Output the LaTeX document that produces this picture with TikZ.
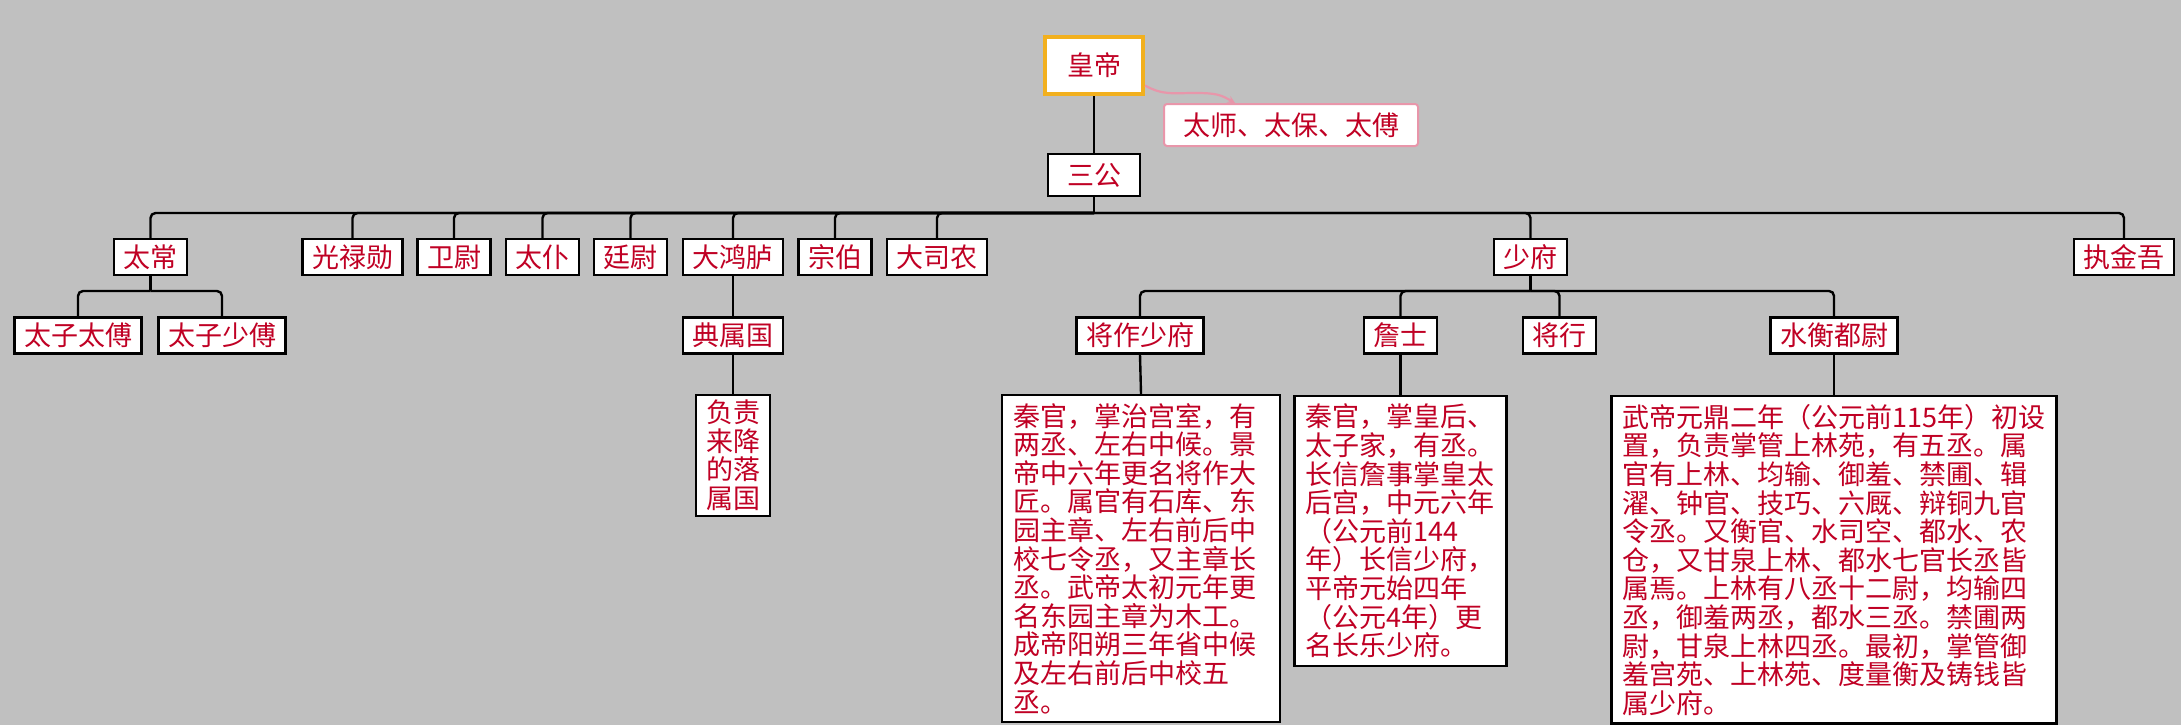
\documentclass[tikz,border=0pt]{standalone}
\usepackage{fontspec}
\setmainfont{Noto Sans CJK SC}
\usepackage{tikz}
\usetikzlibrary{arrows,shapes,positioning}
\usepackage{xcolor}
\definecolor{hanred}{RGB}{192,0,36}
\definecolor{hangray}{RGB}{192,192,192}
\definecolor{hanorange}{RGB}{242,176,30}
\definecolor{hanpink}{RGB}{232,150,170}
\tikzstyle{office} = [rectangle, draw=black, line width=2.4pt, fill=white, text=hanred, text centered, font=\fontsize{27}{28.6}\selectfont, minimum height=36pt, inner xsep=9.5pt, inner ysep=0pt]
\tikzstyle{note} = [rectangle, draw=black, line width=2.2pt, fill=white, text=hanred, align=left, anchor=north, font=\fontsize{27}{28.6}\selectfont, inner xsep=11pt, inner ysep=8pt]
\tikzstyle{link} = [line width=2.4pt, rounded corners=5pt]
\tikzstyle{wavy} = [line width=2.2pt, color=hanpink, ->, >=stealth]

\begin{document}
\begin{tikzpicture}[x=1pt,y=-1pt]
\fill[hangray] (0,0) rectangle (2181,725);
\useasboundingbox (0,0) rectangle (2181,725);

% Emperor and the three excellencies
\node[office, draw=hanorange, line width=4pt, minimum width=98pt, minimum height=57pt] (huangdi) at (1094,65.5) {皇帝};
\node[office, draw=hanpink, line width=2pt, rounded corners=3pt, minimum width=254pt, minimum height=42pt] (sanshi) at (1291,125) {太师、太保、太傅};
\node[office, minimum width=92pt, minimum height=42pt] (sangong) at (1094,175) {三公};

% Nine ministers
\node[office] (taichang) at (150.5,257) {太常};
\node[office] (guanglu) at (352.5,257) {光禄勋};
\node[office] (weiwei) at (454,257) {卫尉};
\node[office] (taipu) at (542.5,257) {太仆};
\node[office] (tingwei) at (630.5,257) {廷尉};
\node[office] (honglu) at (733,257) {大鸿胪};
\node[office] (zongbo) at (835,257) {宗伯};
\node[office] (sinong) at (937,257) {大司农};
\node[office] (shaofu) at (1530.5,257) {少府};
\node[office] (zhijinwu) at (2124,257) {执金吾};

% Subordinate offices
\node[office] (taizitaifu) at (78,335.5) {太子太傅};
\node[office] (taizishaofu) at (222,335.5) {太子少傅};
\node[office] (dianshu) at (733,335.5) {典属国};
\node[office] (jiangzuo) at (1140,335.5) {将作少府};
\node[office] (zhanshi) at (1400.5,335.5) {詹士};
\node[office] (jiangxing) at (1559.5,335.5) {将行};
\node[office] (shuiheng) at (1834,335.5) {水衡都尉};

% Notes
\node[note, text width=54pt, inner xsep=10pt, inner ysep=5pt] (dianshunote) at (733,394) {负责\\来降\\的落\\属国};
\node[note, text width=256pt] (jiangzuonote) at (1141,394) {秦官，掌治宫室，有\\两丞、左右中候。景\\帝中六年更名将作大\\匠。属官有石库、东\\园主章、左右前后中\\校七令丞，又主章长\\丞。武帝太初元年更\\名东园主章为木工。\\成帝阳朔三年省中候\\及左右前后中校五\\丞。};
\node[note, text width=190pt] (zhanshinote) at (1400.5,395) {秦官，掌皇后、\\太子家，有丞。\\长信詹事掌皇太\\后宫，中元六年\\（公元前144\\年）长信少府，\\平帝元始四年\\（公元4年）更\\名长乐少府。};
\node[note, text width=423pt] (shuihengnote) at (1834,395) {武帝元鼎二年（公元前115年）初设\\置，负责掌管上林苑，有五丞。属\\官有上林、均输、御羞、禁圃、辑\\濯、钟官、技巧、六厩、辩铜九官\\令丞。又衡官、水司空、都水、农\\仓，又甘泉上林、都水七官长丞皆\\属焉。上林有八丞十二尉，均输四\\丞，御羞两丞，都水三丞。禁圃两\\尉，甘泉上林四丞。最初，掌管御\\羞宫苑、上林苑、度量衡及铸钱皆\\属少府。};

% Connectors
\draw[wavy] ([yshift=-20pt]huangdi.east) .. controls +(18,10) and +(-22,0) .. (1195,93) .. controls +(22,0) and +(-14,-8) .. ([xshift=72pt]sanshi.north west);
\draw[link] (huangdi.south) -- (sangong.north);
\coordinate (bus1) at (1094,213);
\draw[link] (sangong.south) -- (bus1);
\draw[link] (bus1) -| (taichang.north);
\draw[link] (bus1) -| (guanglu.north);
\draw[link] (bus1) -| (weiwei.north);
\draw[link] (bus1) -| (taipu.north);
\draw[link] (bus1) -| (tingwei.north);
\draw[link] (bus1) -| (honglu.north);
\draw[link] (bus1) -| (zongbo.north);
\draw[link] (bus1) -| (sinong.north);
\draw[link] (bus1) -| (shaofu.north);
\draw[link] (bus1) -| (zhijinwu.north);

\coordinate (bus2) at (150.5,291);
\draw[link] (taichang.south) -- (bus2);
\draw[link] (bus2) -| (taizitaifu.north);
\draw[link] (bus2) -| (taizishaofu.north);
\draw[link] (honglu.south) -- (dianshu.north);
\draw[link] (dianshu.south) -- (dianshunote.north);

\coordinate (bus3) at (1530.5,291);
\draw[link] (shaofu.south) -- (bus3);
\draw[link] (bus3) -| (jiangzuo.north);
\draw[link] (bus3) -| (zhanshi.north);
\draw[link] (bus3) -| (jiangxing.north);
\draw[link] (bus3) -| (shuiheng.north);
\draw[link] (jiangzuo.south) -- (jiangzuonote.north);
\draw[link] (zhanshi.south) -- (zhanshinote.north);
\draw[link] (shuiheng.south) -- (shuihengnote.north);
\end{tikzpicture}
\end{document}
